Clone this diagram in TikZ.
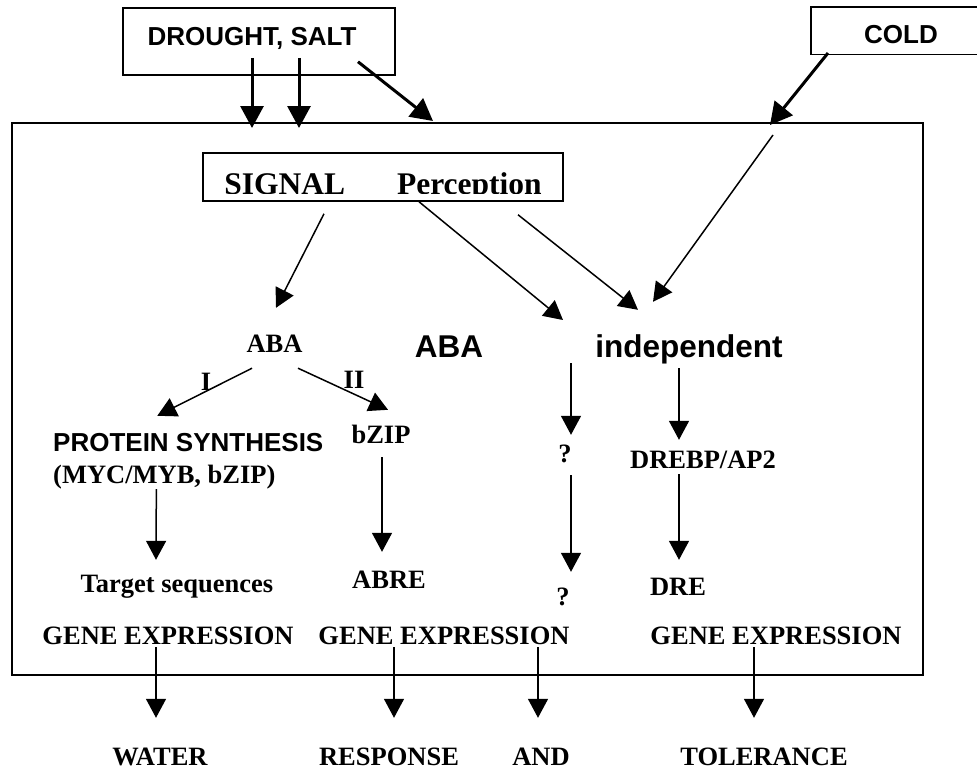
\documentclass[tikz,border=0pt]{standalone}
\usepackage{fontspec}
\setmainfont{Liberation Serif}
\newfontfamily\arialfont{Liberation Sans}
\usetikzlibrary{arrows.meta}

\begin{document}
\begin{tikzpicture}[x=1pt,y=-1pt,inner sep=0pt,
  serif/.style={anchor=base,font=\fontsize{26.5}{30}\selectfont\bfseries,text height=18pt,text depth=6pt},
  sans/.style={anchor=base,font=\arialfont\fontsize{26}{30}\selectfont\bfseries,text height=19pt,text depth=6pt},
  sansbig/.style={anchor=base,font=\arialfont\fontsize{31.5}{36}\selectfont\bfseries,text height=23pt,text depth=7pt},
  stimbox/.style={draw,line width=1.5pt,font=\arialfont\fontsize{26}{30}\selectfont\bfseries},
  arr/.style={line width=1.5pt,-{Triangle[length=19pt,width=20pt]}},
  fatarr/.style={line width=3pt,-{Triangle[length=22pt,width=23pt]}}]

\useasboundingbox (0,0) rectangle (977,769);

% the cell
\draw[line width=2pt] (12,123) rectangle (923,675);

\node(drought) at (259,41.5) [stimbox,minimum width=272pt,minimum height=67pt,text height=19pt,text depth=12pt] {\hspace*{-14pt}DROUGHT, SALT};
\node(cold) at (901,30.5) [stimbox,minimum width=180pt,minimum height=47.5pt,text height=25pt,text depth=0pt] {COLD};
% text cut off at the foot, as printed
\node(signal) at (383,177) [draw,line width=1.5pt,minimum width=360pt,minimum height=48pt,
  path picture={\clip (path picture bounding box.north west) rectangle ([yshift=8pt]path picture bounding box.south east);
  \node at ([yshift=7pt]path picture bounding box.south) [anchor=base,font=\fontsize{31.5}{36}\selectfont\bfseries] {SIGNAL\hspace{52pt}Perception};}] {};

\node(abal) at (274.5,352) [serif] {ABA};
\node(abab) at (449,357) [sansbig] {ABA};
\node(indep) at (689,357) [sansbig] {independent};
\node(one) at (206,390) [serif] {I};
\node(two) at (354,388) [serif] {II};
\node(protein) at (53,451) [sans,anchor=base west] {PROTEIN SYNTHESIS};
\node(myc) at (53,483) [serif,anchor=base west] {(MYC/MYB, bZIP)};
\node(bzip) at (381,443) [serif] {bZIP};
\node(q1) at (565,462) [serif] {?};
\node(drebp) at (703,468) [serif] {DREBP/AP2};
\node(target) at (177,592) [serif] {Target sequences};
\node(abre) at (389,588) [serif] {ABRE};
\node(q2) at (563,605) [serif] {?};
\node(dre) at (678,595) [serif] {DRE};
\node(gene1) at (168,644) [serif] {GENE EXPRESSION};
\node(gene2) at (444,644) [serif] {GENE EXPRESSION};
\node(gene3) at (776,644) [serif] {GENE EXPRESSION};
\node(water) at (160,765) [serif] {WATER};
\node(resp) at (389,765) [serif] {RESPONSE};
\node(andw) at (541,765) [serif] {AND};
\node(tol) at (764,765) [serif] {TOLERANCE};

\coordinate(in1) at (252,128);
\coordinate(in2) at (299,128);
\coordinate(in3) at (433,121);
\coordinate(in4) at (770,125);
\coordinate(c1) at (773,135);
\coordinate(m1) at (563,320);
\coordinate(m2) at (571,363);

% stress into the cell
\draw[fatarr] ([xshift=-7pt,yshift=18pt]drought.south) -- (in1);
\draw[fatarr] ([xshift=40pt,yshift=18pt]drought.south) -- (in2);
\draw[fatarr] ([xshift=99pt,yshift=14pt]drought.south) -- (in3);
\draw[fatarr] ([xshift=-73pt,yshift=2pt]cold.south) -- (in4);

\draw[arr] (c1) -- ([xshift=-36pt,yshift=32pt]indep.north);
\draw[arr] ([xshift=-59pt,yshift=-12pt]signal.south) -- ([xshift=1.5pt,yshift=26pt]abal.north);
\draw[arr] ([xshift=36pt]signal.south) -- (m1);
\draw[arr] ([xshift=135pt,yshift=-13pt]signal.south) -- ([xshift=-51pt,yshift=24pt]indep.north);

\draw[arr] ([xshift=-22.5pt,yshift=-10pt]abal.south) -- ([xshift=-31pt,yshift=16pt]protein.north);
\draw[arr] ([xshift=23.5pt,yshift=-10pt]abal.south) -- ([xshift=7pt,yshift=15pt]bzip.north);
\draw[arr] ([xshift=-8pt]myc.south) -- ([xshift=-21pt,yshift=14pt]target.north);
\draw[arr] ([xshift=1pt,yshift=-8pt]bzip.south) -- ([xshift=-7pt,yshift=18pt]abre.north);
\draw[arr] (m2) -- ([xshift=6pt,yshift=9pt]q1.north);
\draw[arr] ([xshift=6pt,yshift=-7pt]q1.south) -- ([xshift=8pt,yshift=15pt]q2.north);
\draw[arr] ([xshift=-10pt,yshift=-4pt]indep.south) -- ([xshift=-24pt,yshift=10pt]drebp.north);
\draw[arr] ([xshift=-24pt]drebp.south) -- ([xshift=1pt,yshift=17pt]dre.north);

% out of the cell
\draw[arr] ([xshift=-12pt,yshift=3pt]gene1.south) -- ([xshift=-4pt,yshift=29pt]water.north);
\draw[arr] ([xshift=-50pt,yshift=3pt]gene2.south) -- ([xshift=5pt,yshift=29pt]resp.north);
\draw[arr] ([xshift=94pt,yshift=3pt]gene2.south) -- ([xshift=-3pt,yshift=29pt]andw.north);
\draw[arr] ([xshift=-22pt,yshift=3pt]gene3.south) -- ([xshift=-10pt,yshift=29pt]tol.north);

\end{tikzpicture}
\end{document}
